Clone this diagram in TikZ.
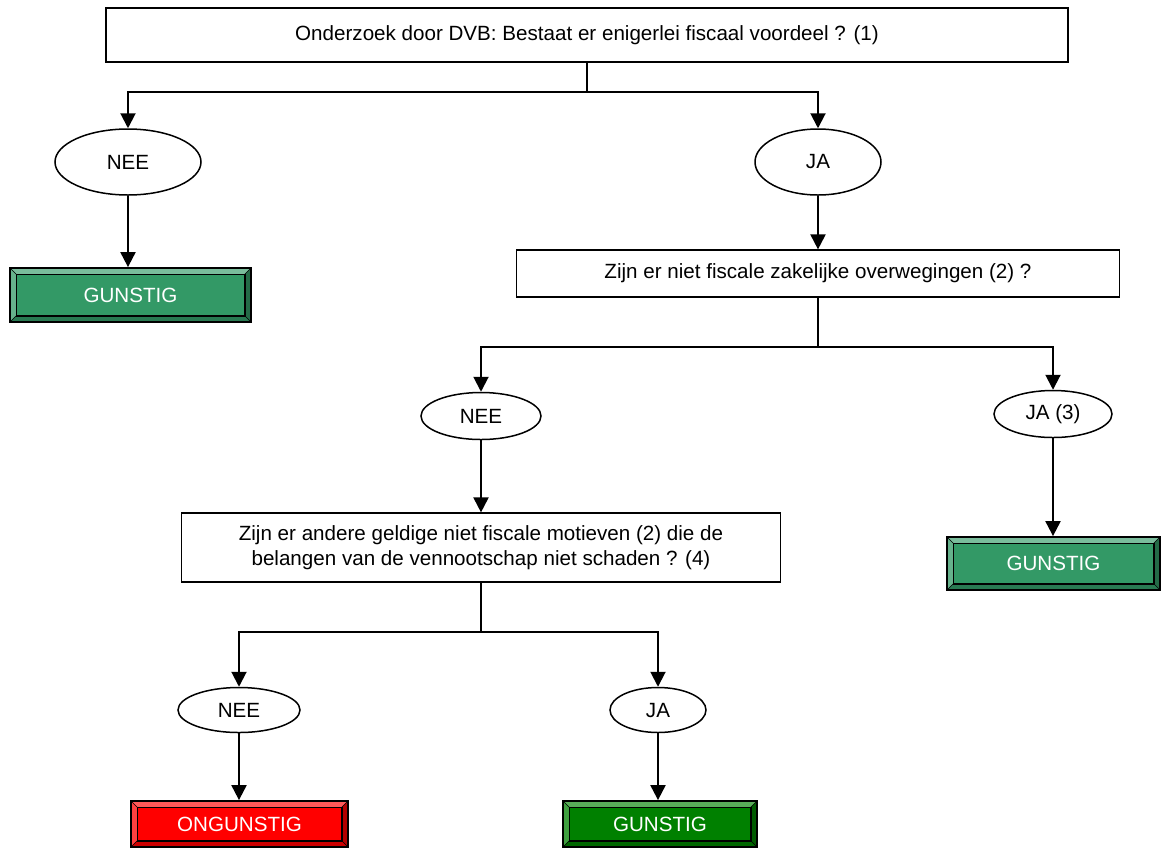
\documentclass[tikz,border=0pt]{standalone}
\usepackage{fontspec}
\setmainfont{Liberation Sans}
\usetikzlibrary{shapes.geometric,arrows.meta}
\definecolor{seag}{HTML}{339966}
\definecolor{dgreen}{HTML}{008000}
\definecolor{bred}{HTML}{FF0000}
\tikzset{
  sz/.style 2 args={minimum width=#1*0.5pt, minimum height=#2*0.5pt, inner sep=0pt},
  qbox/.style={draw=black, line width=0.6pt, fill=white, align=center},
  oval/.style={ellipse, draw=black, line width=0.75pt, fill=white},
  bev/.style={fill=#1, text=white, draw=black, line width=0.9pt,
    path picture={
      \coordinate (pa) at (path picture bounding box.north west);
      \coordinate (pb) at (path picture bounding box.north east);
      \coordinate (pc) at (path picture bounding box.south east);
      \coordinate (pd) at (path picture bounding box.south west);
      \coordinate (ia) at ([xshift=3.2pt,yshift=-3.2pt]pa);
      \coordinate (ib) at ([xshift=-3.2pt,yshift=-3.2pt]pb);
      \coordinate (ic) at ([xshift=-3.2pt,yshift=3.2pt]pc);
      \coordinate (id) at ([xshift=3.2pt,yshift=3.2pt]pd);
      \fill[#1!65!white] (pa) -- (pb) -- (ib) -- (ia) -- cycle;
      \fill[#1!75!white] (pa) -- (ia) -- (id) -- (pd) -- cycle;
      \fill[#1!70!black] (pb) -- (pc) -- (ic) -- (ib) -- cycle;
      \fill[#1!80!black] (pd) -- (id) -- (ic) -- (pc) -- cycle;
      \draw[line width=0.3pt] (pa) -- (ia) (pb) -- (ib) (pc) -- (ic) (pd) -- (id);
      \draw[line width=0.9pt] (ia) rectangle (ic);
    }},
  conn/.style={line width=1pt},
  arr/.style={line width=1pt, -{Triangle[width=7.5pt,length=7.5pt]}}
}
\begin{document}
\begin{tikzpicture}[x=0.5pt,y=-0.5pt,font=\fontsize{10.3}{12.6}\selectfont]
\useasboundingbox (0,0) rectangle (1161,847);
% question boxes
\node[qbox, sz={962}{54}] (top) at (587,35) {Onderzoek door DVB: Bestaat er enigerlei fiscaal voordeel ? (1)};
\node[qbox, sz={603}{47}] (box2) at (818,273.5) {Zijn er niet fiscale zakelijke overwegingen (2) ?};
\node[qbox, sz={599}{69}] (box3) at (481,547.5) {Zijn er andere geldige niet fiscale motieven (2) die de\\belangen van de vennootschap niet schaden ? (4)};
% ovals
\node[oval, sz={146}{66}] (nee1) at (128,162) {NEE};
\node[oval, sz={126}{66}] (ja1) at (818,162) {JA};
\node[oval, sz={120}{47}] (nee2) at (481,416) {NEE};
\node[oval, sz={118}{47}] (ja2) at (1053,414) {JA (3)};
\node[oval, sz={122}{45}] (nee3) at (239,710) {NEE};
\node[oval, sz={96}{45}] (ja3) at (658,710) {JA};
% result boxes
\node[bev=seag, sz={241}{54}] (g1) at (130.5,295) {GUNSTIG};
\node[bev=seag, sz={213}{53}] (g2) at (1053.5,563.5) {GUNSTIG};
\node[bev=bred, sz={217}{46}] (r1) at (239.5,824) {ONGUNSTIG};
\node[bev=dgreen, sz={194}{46}] (g3) at (660,824) {GUNSTIG};
% junctions
\coordinate (j1) at (587,92);
\coordinate (j2) at (818,347);
\coordinate (j3) at (481,632);
% connectors
\draw[conn] (top.south) -- (j1);
\draw[arr] (j1) -| (nee1.north);
\draw[arr] (j1) -| (ja1.north);
\draw[arr] (nee1.south) -- (g1.north -| nee1.south);
\draw[arr] (ja1.south) -- (box2.north);
\draw[conn] (box2.south) -- (j2);
\draw[arr] (j2) -| (nee2.north);
\draw[arr] (j2) -| (ja2.north);
\draw[arr] (nee2.south) -- (box3.north);
\draw[arr] (ja2.south) -- (g2.north -| ja2.south);
\draw[conn] (box3.south) -- (j3);
\draw[arr] (j3) -| (nee3.north);
\draw[arr] (j3) -| (ja3.north);
\draw[arr] (nee3.south) -- (r1.north -| nee3.south);
\draw[arr] (ja3.south) -- (g3.north -| ja3.south);
\end{tikzpicture}
\end{document}
